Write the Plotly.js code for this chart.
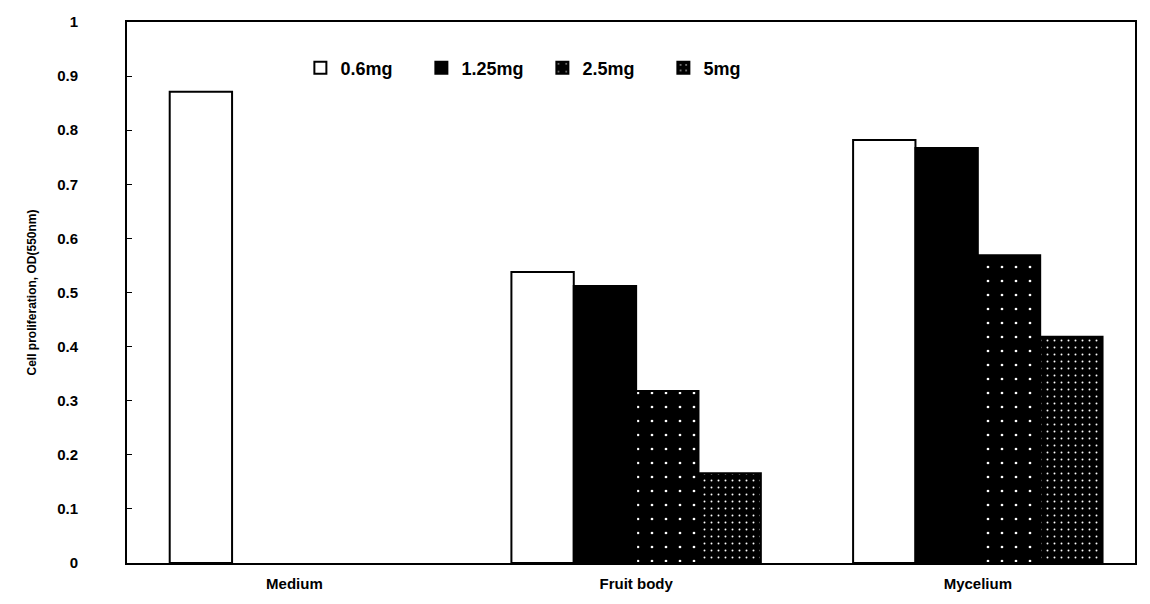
<!DOCTYPE html>
<html>
<head>
<meta charset="utf-8">
<script src="https://cdn.plot.ly/plotly-3.0.1.min.js"></script>
<style>html,body{margin:0;padding:0;background:#fff;}#chart{width:1150px;height:604px;}</style>
</head>
<body>
<div id="chart"></div>
<script>
const categories = ["Medium", "Fruit body", "Mycelium"];
const seriesNames = ["0.6mg", "1.25mg", "2.5mg", "5mg"];
const dose06 = [0.871, 0.538, 0.782];
const dose125 = [null, 0.512, 0.767];
const dose25 = [null, 0.318, 0.569];
const dose5 = [null, 0.166, 0.418];
const yTicks = [0, 0.1, 0.2, 0.3, 0.4, 0.5, 0.6, 0.7, 0.8, 0.9, 1];

const fontFam = "Arial, 'Liberation Sans', sans-serif";
const line = {color: "#000", width: 2};
const traces = [
  {type: "bar", name: seriesNames[0], x: categories, y: dose06,
   marker: {color: "#fff", line: line}},
  {type: "bar", name: seriesNames[1], x: categories, y: dose125,
   marker: {color: "#000", line: line}},
  {type: "bar", name: seriesNames[2], x: categories, y: dose25,
   marker: {color: "#000", line: line,
     pattern: {shape: ".", fgcolor: "#fff", bgcolor: "#000", size: 14, solidity: 0.03}}},
  {type: "bar", name: seriesNames[3], x: categories, y: dose5,
   marker: {color: "#000", line: line,
     pattern: {shape: ".", fgcolor: "#fff", bgcolor: "#000", size: 7, solidity: 0.06}}}
];

const layout = {
  width: 1150, height: 604,
  margin: {l: 127, r: 15, t: 22, b: 41},
  paper_bgcolor: "#fff", plot_bgcolor: "#fff",
  barmode: "group", bargap: 0.27, bargroupgap: 0,
  showlegend: true,
  legend: {orientation: "h", x: 0.172, y: 0.915, xanchor: "left", yanchor: "middle",
    font: {family: fontFam, size: 18, color: "#000", weight: "bold"},
    itemwidth: 30, entrywidth: 76, entrywidthmode: "pixels",
    tracegroupgap: 0, bgcolor: "rgba(0,0,0,0)"},
  font: {family: fontFam, color: "#000"},
  xaxis: {
    type: "category", range: [-0.49, 2.46],
    showline: true, linecolor: "#000", linewidth: 2, mirror: true,
    ticks: "", showgrid: false,
    tickfont: {family: fontFam, size: 15, color: "#000", weight: "bold"},
    ticklabelstandoff: 6
  },
  yaxis: {
    range: [0, 1], tickvals: yTicks, ticktext: yTicks.map(v => String(v)),
    showline: true, linecolor: "#000", linewidth: 2, mirror: true,
    ticks: "inside", ticklen: 5, tickcolor: "#000", showgrid: false, zeroline: false,
    tickfont: {family: fontFam, size: 15, color: "#000", weight: "bold"},
    ticklabelstandoff: 44,
    title: {text: "Cell proliferation, OD(550nm)", standoff: 18,
      font: {family: fontFam, size: 12, color: "#000", weight: "bold"}}
  }
};

Plotly.newPlot("chart", traces, layout, {displayModeBar: false, staticPlot: true});
</script>
</body>
</html>
